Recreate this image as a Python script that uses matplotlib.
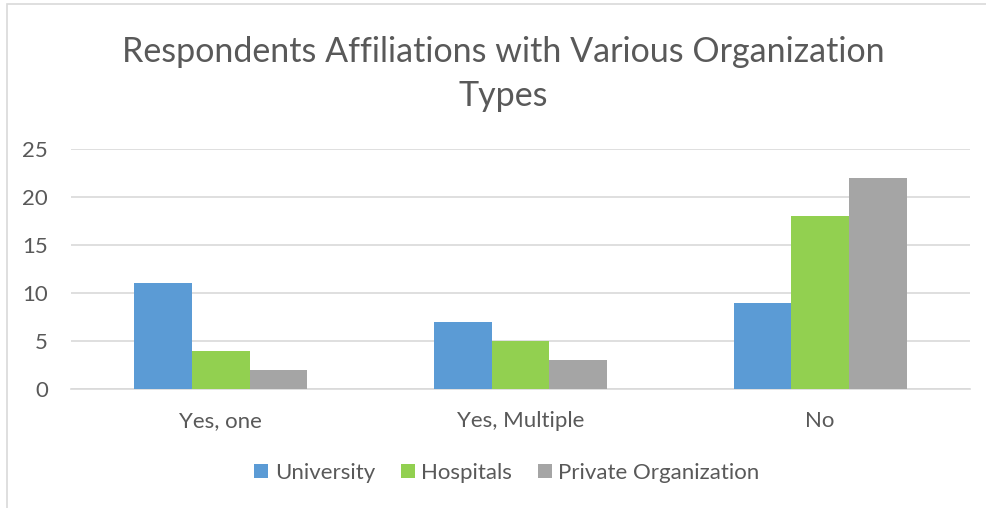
import numpy as np
import matplotlib.pyplot as plt
from matplotlib.patches import Rectangle

categories = ['Yes, one', 'Yes, Multiple', 'No']
university = [11, 7, 9]
hospitals = [4, 5, 18]
private_org = [2, 3, 22]
series_names = ['University', 'Hospitals', 'Private Organization']
colors = ['#5B9BD5', '#92D050', '#A5A5A5']
yticks = [0, 5, 10, 15, 20, 25]

plt.rcParams['font.family'] = ['Lato', 'DejaVu Sans']
text_color = '#595959'

fig = plt.figure(figsize=(9.87, 5.08), dpi=100)
ax = fig.add_axes([71 / 987, 1 - 389 / 508, (970 - 71) / 987, (389 - 149) / 508])

# chart border
fig.patches.append(Rectangle((7 / 987, -0.01), 1.2, 1 - 4 / 508 + 0.01,
                             transform=fig.transFigure, fill=False,
                             edgecolor='#D9D9D9', linewidth=1.2))

x = np.arange(len(categories))
width = 1 / (3 + 2.19)
for i, (vals, name) in enumerate(zip([university, hospitals, private_org], series_names)):
    ax.bar(x + (i - 1) * width, vals, width, color=colors[i], label=name, zorder=3)

ax.set_xlim(-0.5, 2.5)
ax.set_ylim(0, 25)
ax.set_yticks(yticks)
ax.set_xticks(x)
ax.set_xticklabels(categories)
ax.yaxis.grid(True, color='#D9D9D9', linewidth=1.2, zorder=0)
ax.tick_params(axis='both', length=0, labelsize=16, colors=text_color)
ax.tick_params(axis='x', pad=16)
ax.tick_params(axis='y', pad=16.5)
for side in ['top', 'right', 'left']:
    ax.spines[side].set_visible(False)
ax.spines['bottom'].set_color('#D9D9D9')
ax.spines['bottom'].set_linewidth(1.2)

fig.text(503 / 987, 1 - 74 / 508, 'Respondents Affiliations with Various Organization\nTypes',
         ha='center', va='center', fontsize=24.5, color=text_color, linespacing=1.5)

fig.legend(loc='center', bbox_to_anchor=(507 / 987, 1 - 473 / 508), ncol=3, frameon=False,
           fontsize=16, labelcolor=text_color, handlelength=0.63, handleheight=0.63,
           handletextpad=0.3, columnspacing=1.15)

fig.savefig('out.png', dpi=100)
